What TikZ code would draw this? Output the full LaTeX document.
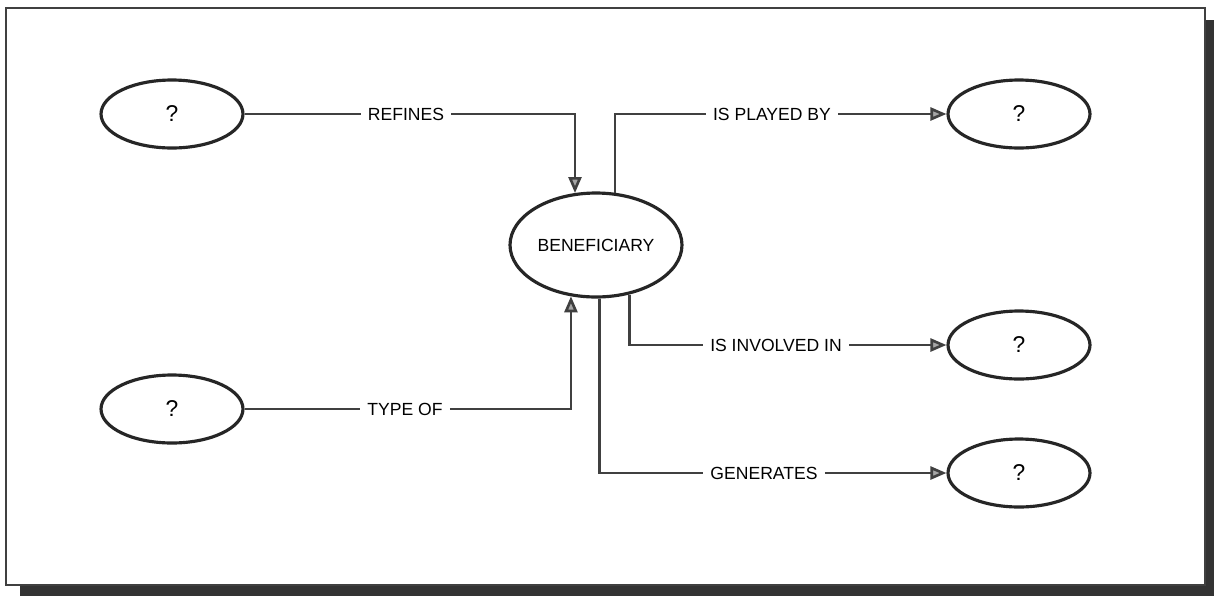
\documentclass[tikz,border=0pt]{standalone}
\usepackage{fontspec}
\setmainfont{Liberation Sans}
\usepackage{tikz}
\usetikzlibrary{arrows.meta,shapes.geometric,positioning}

\begin{document}
\begin{tikzpicture}[x=0.02cm,y=-0.02cm,>={Triangle[length=3.2mm,width=2.6mm,fill=black!35]},
  q/.style={ellipse,draw=black!85,line width=1.8pt,minimum width=2.84cm,minimum height=1.36cm,inner sep=0pt,font=\fontsize{13}{15}\selectfont},
  lbl/.style={inner xsep=4pt,inner ysep=1pt,font=\fontsize{10}{12}\selectfont},
  ln/.style={draw=black!75,line width=1.5pt}]
\useasboundingbox (0,0) rectangle (1214,596);
\fill[black!80] (20,20) rectangle (1214,596);
\draw[draw=black!75,fill=white,line width=0.8pt] (6,8) rectangle (1205,585);
\node[q] (q1) at (172,114) {?};
\node[q] (q2) at (172,409) {?};
\node[q,minimum width=3.44cm,minimum height=2.08cm,font=\fontsize{10}{12}\selectfont] (ben) at (596,245) {BENEFICIARY};
\node[q] (q3) at (1019,114) {?};
\node[q] (q4) at (1019,345) {?};
\node[q] (q5) at (1019,473) {?};
\node[lbl] (refines) at (406,114) {REFINES};
\node[lbl] (typeof) at (405,409) {TYPE OF};
\node[lbl] (played) at (772,114) {IS PLAYED BY};
\node[lbl] (involved) at (776,345) {IS INVOLVED IN};
\node[lbl] (generates) at (764,473) {GENERATES};
\draw[ln] (q1) -- (refines); \draw[ln,->] (refines) -| (ben.112.6);
\draw[ln] (q2) -- (typeof); \draw[ln,->] (typeof) -| (ben.244.3);
\draw[ln] (ben.70.5) |- (played); \draw[ln,->] (played) -- (q3);
\draw[ln] (ben.-56.5) |- (involved); \draw[ln,->] (involved) -- (q4);
\draw[ln] (ben.-86.7) |- (generates); \draw[ln,->] (generates) -- (q5);
\end{tikzpicture}
\end{document}
